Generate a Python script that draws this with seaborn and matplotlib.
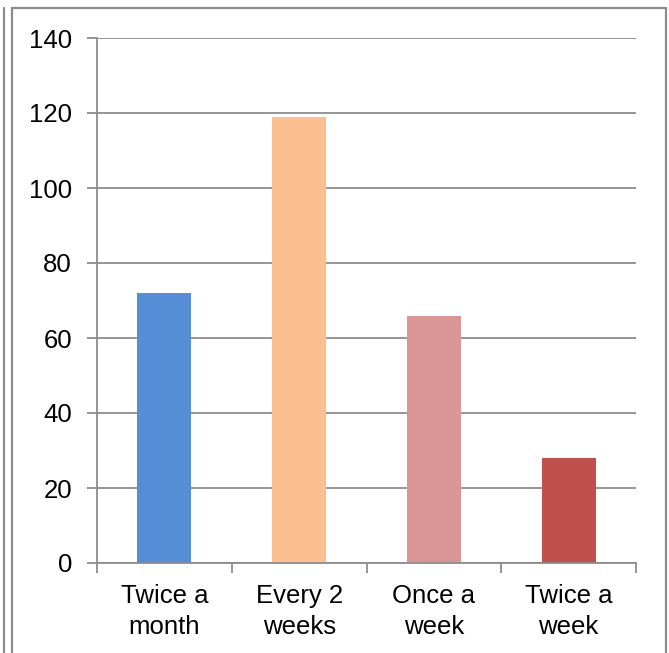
import matplotlib
matplotlib.use("Agg")
import matplotlib.pyplot as plt
import seaborn as sns
import pandas as pd
from matplotlib.lines import Line2D

categories = ["Twice a\nmonth", "Every 2\nweeks", "Once a\nweek", "Twice a\nweek"]
values = [72, 119, 66, 28]
colors = ["#558ED5", "#FAC090", "#D99694", "#C0504D"]
yticks = [0, 20, 40, 60, 80, 100, 120, 140]

sns.set_theme(style="white")
plt.rcParams['font.family'] = ['Liberation Sans', 'DejaVu Sans']

W, H = 669, 653
fig = plt.figure(figsize=(W / 100, H / 100), dpi=100)
ax = fig.add_axes([97 / W, 1 - 563 / H, (636 - 97) / W, (563 - 38) / H])

df = pd.DataFrame({"cat": categories, "val": values})
sns.barplot(data=df, x="cat", y="val", hue="cat", palette=colors, width=0.4,
            legend=False, ax=ax, saturation=1, linewidth=0)

ax.set_ylim(0, 140)
ax.set_xlim(-0.5, len(categories) - 0.5)
ax.set_yticks(yticks)
ax.set_yticklabels([str(t) for t in yticks], fontsize=18.5, color="black")
ax.set_xlabel("")
ax.set_ylabel("")
ax.yaxis.grid(True, color="#8C8C8C", linewidth=1.3)
ax.set_axisbelow(True)
for s in ["top", "right"]:
    ax.spines[s].set_visible(False)
for s in ["left", "bottom"]:
    ax.spines[s].set_color("#8C8C8C")
    ax.spines[s].set_linewidth(1.3)

# x ticks at category boundaries, labels at centers
ax.set_xticks([i - 0.5 for i in range(len(categories) + 1)], minor=False)
ax.set_xticklabels([""] * (len(categories) + 1))
ax.set_xticks(range(len(categories)), minor=True)
ax.set_xticklabels(categories, minor=True, fontsize=18.5, linespacing=1.36, color="black")
ax.tick_params(axis="x", which="major", direction="out", length=7, width=1.3,
               color="#8C8C8C", bottom=True)
ax.tick_params(axis="x", which="minor", length=0, pad=15)
ax.tick_params(axis="y", direction="out", length=7, width=1.3, color="#8C8C8C",
               left=True, pad=11)

# figure border
c = "#8C8C8C"
fig.add_artist(Line2D([12 / W, 12 / W], [1 - 8 / H, 0], transform=fig.transFigure, color=c, lw=1.6))
fig.add_artist(Line2D([12 / W, 666 / W], [1 - 8 / H, 1 - 8 / H], transform=fig.transFigure, color=c, lw=1.6))
fig.add_artist(Line2D([666 / W, 666 / W], [1 - 8 / H, 0], transform=fig.transFigure, color=c, lw=1.6))
fig.add_artist(Line2D([3.5 / W, 3.5 / W], [1 - 8 / H, 0], transform=fig.transFigure, color=c, lw=1.6))

fig.savefig("out.png", dpi=100)
